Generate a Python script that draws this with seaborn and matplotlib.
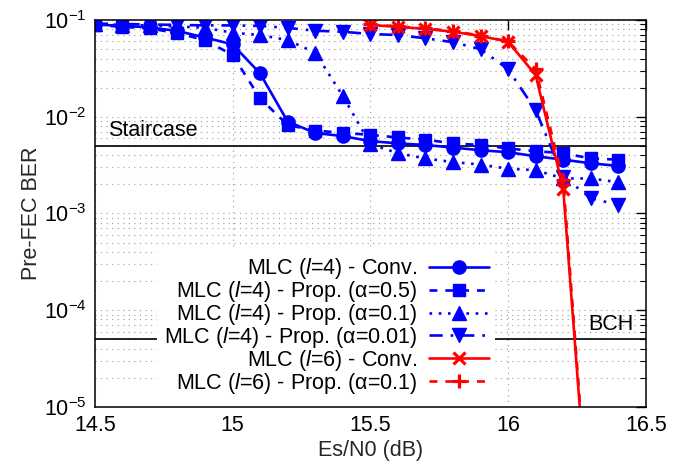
import matplotlib
matplotlib.use("Agg")
import matplotlib.pyplot as plt
import seaborn as sns
from matplotlib.ticker import FormatStrFormatter, FixedLocator, LogLocator

# Es/N0 sweep (dB)
snr_l4 = [14.5, 14.6, 14.7, 14.8, 14.9, 15.0, 15.1, 15.2, 15.3, 15.4,
          15.5, 15.6, 15.7, 15.8, 15.9, 16.0, 16.1, 16.2, 16.3, 16.4]
snr_l6 = [15.5, 15.6, 15.7, 15.8, 15.9, 16.0, 16.1, 16.2, 16.3]

# Pre-FEC BER, l = 4
ber_l4_conv = [0.090, 0.087, 0.084, 0.077, 0.066, 0.056, 0.028, 0.0089, 0.0068, 0.0063,
               0.0056, 0.0053, 0.0051, 0.0048, 0.0045, 0.0043, 0.0039, 0.0036, 0.0033, 0.0031]
ber_l4_a05 = [0.089, 0.085, 0.082, 0.073, 0.062, 0.0435, 0.0155, 0.0082, 0.0072, 0.0068,
              0.0065, 0.0061, 0.0058, 0.0053, 0.0051, 0.0047, 0.0044, 0.0042, 0.0037, 0.0036]
ber_l4_a01 = [0.091, 0.089, 0.088, 0.086, 0.083, 0.074, 0.070, 0.062, 0.046, 0.0164,
              0.0052, 0.0042, 0.0037, 0.0034, 0.0032, 0.0029, 0.0028, 0.0023, 0.0023, 0.0021]
ber_l4_a001 = [0.092, 0.091, 0.090, 0.089, 0.088, 0.088, 0.087, 0.083, 0.0775, 0.0757,
               0.0717, 0.070, 0.0647, 0.059, 0.050, 0.031, 0.0117, 0.0024, 0.00144, 0.00122]

# Pre-FEC BER, l = 6
ber_l6_conv = [0.089, 0.085, 0.081, 0.0757, 0.0684, 0.0597, 0.027, 0.0018, 3.2e-7]
ber_l6_a01 = [0.090, 0.086, 0.082, 0.077, 0.069, 0.060, 0.031, 0.0022, 3.5e-7]

labels = [
    r"MLC ($\mathit{l}$=4) - Conv.",
    r"MLC ($\mathit{l}$=4) - Prop. (α=0.5)",
    r"MLC ($\mathit{l}$=4) - Prop. (α=0.1)",
    r"MLC ($\mathit{l}$=4) - Prop. (α=0.01)",
    r"MLC ($\mathit{l}$=6) - Conv.",
    r"MLC ($\mathit{l}$=6) - Prop. (α=0.1)",
]

# FEC thresholds
staircase_th = 5e-3
bch_th = 5e-5

FS = 15.5

sns.set_theme(style="white")
plt.rcParams.update({
    "font.family": ["Liberation Sans", "DejaVu Sans"],
    "mathtext.fontset": "custom",
    "mathtext.rm": "Liberation Sans",
    "mathtext.it": "Liberation Sans:italic",
    "mathtext.default": "regular",
    "axes.edgecolor": "black",
    "axes.linewidth": 1.1,
    "text.color": "black",
})

fig, ax = plt.subplots(figsize=(6.82, 4.66), dpi=100)
fig.subplots_adjust(left=0.139, right=0.947, bottom=0.127, top=0.957)

blue, red = "#0000ff", "#ff0000"
lw = 1.9
styles = [
    (snr_l4, ber_l4_conv, blue, "o", 9.5, 1.0, "-"),
    (snr_l4, ber_l4_a05, blue, "s", 8.5, 1.0, (0, (3, 3))),
    (snr_l4, ber_l4_a01, blue, "^", 10.5, 1.0, (0, (1, 2.5))),
    (snr_l4, ber_l4_a001, blue, "v", 10.5, 1.0, (0, (5, 3, 1, 3))),
    (snr_l6, ber_l6_conv, red, "x", 8.5, 2.3, "-"),
    (snr_l6, ber_l6_a01, red, "+", 10, 2.3, (0, (3, 3))),
]

for (x, y, c, m, ms, mew, ls), lab in zip(styles, labels):
    sns.lineplot(x=x, y=y, ax=ax, color=c, marker=m, markersize=ms,
                 markeredgecolor=c, markeredgewidth=mew, linewidth=lw,
                 linestyle=ls, errorbar=None, label=lab)

ax.axhline(staircase_th, color="black", linewidth=1.2, zorder=1)
ax.axhline(bch_th, color="black", linewidth=1.2, zorder=1)
ax.text(14.547, 6.3e-3, "Staircase", fontsize=FS, va="baseline", ha="left")
ax.text(16.29, 6.25e-5, "BCH", fontsize=FS, va="baseline", ha="left")

ax.set_yscale("log")
ax.set_xlim(14.5, 16.5)
ax.set_ylim(1e-5, 1e-1)
ax.xaxis.set_major_locator(FixedLocator([14.5, 15, 15.5, 16, 16.5]))
ax.xaxis.set_major_formatter(FormatStrFormatter("%g"))
ax.yaxis.set_major_locator(LogLocator(base=10, numticks=10))
ax.yaxis.set_minor_locator(LogLocator(base=10, subs=range(2, 10), numticks=20))

ax.tick_params(axis="both", which="both", direction="in", top=True, right=True,
               labelsize=FS, colors="black")
ax.tick_params(axis="both", which="major", length=7, width=1.0, pad=6)
ax.tick_params(axis="both", which="minor", length=4, width=0.8)

grid_kw = dict(linestyle=(0, (1, 4)), color="#9a9a9a", linewidth=0.8)
ax.grid(True, which="major", axis="x", **grid_kw)
ax.grid(True, which="both", axis="y", **grid_kw)
ax.set_axisbelow(True)

ax.set_xlabel("Es/N0 (dB)", fontsize=FS, labelpad=3)
ax.set_ylabel("Pre-FEC BER", fontsize=FS, labelpad=1)

h, l = ax.get_legend_handles_labels()
leg = ax.legend(h, l, loc="lower right", bbox_to_anchor=(0.727, 0.012),
                markerfirst=False, frameon=True, handlelength=2.8,
                handletextpad=0.55, labelspacing=-0.1, borderaxespad=0,
                borderpad=0.3, fontsize=FS, numpoints=1, fancybox=False)
leg.get_frame().set_facecolor("white")
leg.get_frame().set_edgecolor("none")
leg.get_frame().set_alpha(1.0)

fig.savefig("out.png", dpi=100)
